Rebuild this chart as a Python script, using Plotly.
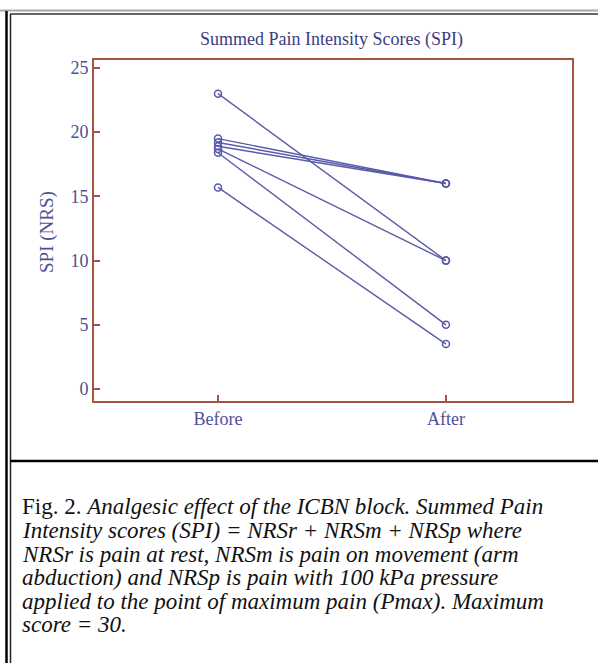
import plotly.graph_objects as go

# ---- data ----
categories = ["Before", "After"]
spi_before = [23.0, 19.5, 19.2, 18.9, 18.7, 18.4, 15.7]
spi_after = [10.0, 16.0, 16.0, 16.0, 10.0, 5.0, 3.5]
y_ticks = [0, 5, 10, 15, 20, 25]

title_text = "Summed Pain Intensity Scores (SPI)"
y_title = "SPI (NRS)"
caption_lines = [
    "Fig. 2. <i>Analgesic effect of the ICBN block. Summed Pain</i>",
    "<i>Intensity scores (SPI) = NRSr + NRSm + NRSp where</i>",
    "<i>NRSr is pain at rest, NRSm is pain on movement (arm</i>",
    "<i>abduction) and NRSp is pain with 100 kPa pressure</i>",
    "<i>applied to the point of maximum pain (Pmax). Maximum</i>",
    "<i>score = 30.</i>",
]

W, H = 598, 663
L, R, T, B = 94, 26, 60, 262
PW, PH = W - L - R, H - T - B


def px(x):
    return (x - L) / PW


def py(y):
    return (H - B - y) / PH


line_col = "#5a5aaa"
axis_col = "#a5553f"
text_col = "#4f4f98"

fig = go.Figure()
xpos = list(range(len(categories)))
for b, a in zip(spi_before, spi_after):
    fig.add_trace(go.Scatter(
        x=xpos, y=[b, a], mode="lines+markers",
        line=dict(color=line_col, width=1.4),
        marker=dict(symbol="circle-open", size=7, color=line_col, line=dict(width=1.5)),
        showlegend=False, hoverinfo="skip",
    ))

serif = "Liberation Serif"
fig.update_layout(
    width=W, height=H,
    margin=dict(l=L, r=R, t=T, b=B),
    paper_bgcolor="white", plot_bgcolor="white",
    font=dict(family=serif, color=text_col, size=15),
    xaxis=dict(
        range=[-0.544, 1.553], tickvals=xpos, ticktext=categories,
        showgrid=False, zeroline=False, showline=True, mirror=True,
        linecolor=axis_col, linewidth=2, ticks="inside", ticklen=6,
        tickcolor=axis_col, tickwidth=2,
        tickfont=dict(family=serif, size=18, color=text_col),
    ),
    yaxis=dict(
        range=[-0.93, 25.62], tickvals=y_ticks,
        showgrid=False, zeroline=False, showline=True, mirror=True,
        linecolor=axis_col, linewidth=2, ticks="inside", ticklen=6,
        tickcolor=axis_col, tickwidth=2,
        tickfont=dict(family=serif, size=18, color=text_col),
    ),
)

annotations = [
    dict(text=title_text, x=px(331), y=py(39), xref="paper", yref="paper",
         showarrow=False, xanchor="center", yanchor="middle",
         font=dict(family=serif, size=18, color="#3d3d80")),
    dict(text=y_title, x=px(47), y=py(232), xref="paper", yref="paper",
         showarrow=False, xanchor="center", yanchor="middle", textangle=-90,
         font=dict(family=serif, size=19, color=text_col)),
]
cap_y = [506, 530, 554, 577, 601, 624]
for t, yy in zip(caption_lines, cap_y):
    annotations.append(dict(
        text=t, x=px(20), y=py(yy), xref="paper", yref="paper",
        showarrow=False, xanchor="left", yanchor="middle",
        font=dict(family=serif, size=23, color="#111111")))
fig.update_layout(annotations=annotations)

shapes = [
    dict(type="line", x0=px(0), x1=px(598), y0=py(10.5), y1=py(10.5),
         line=dict(color="#a8a8a8", width=2)),
    dict(type="line", x0=px(10), x1=px(598), y0=py(14), y1=py(14),
         line=dict(color="#333333", width=1.5)),
    dict(type="line", x0=px(6.5), x1=px(6.5), y0=py(11), y1=py(663),
         line=dict(color="#000000", width=2.5)),
    dict(type="line", x0=px(10.5), x1=px(10.5), y0=py(14), y1=py(663),
         line=dict(color="#222222", width=1.5)),
    dict(type="line", x0=px(10), x1=px(598), y0=py(461), y1=py(461),
         line=dict(color="#000000", width=2.5)),
]
for s in shapes:
    s.update(xref="paper", yref="paper", layer="above")
fig.update_layout(shapes=shapes)

fig.write_html(
    "out.html",
    config={"displayModeBar": False},
    post_script="document.body.style.margin='0';document.body.style.overflow='hidden';",
)
